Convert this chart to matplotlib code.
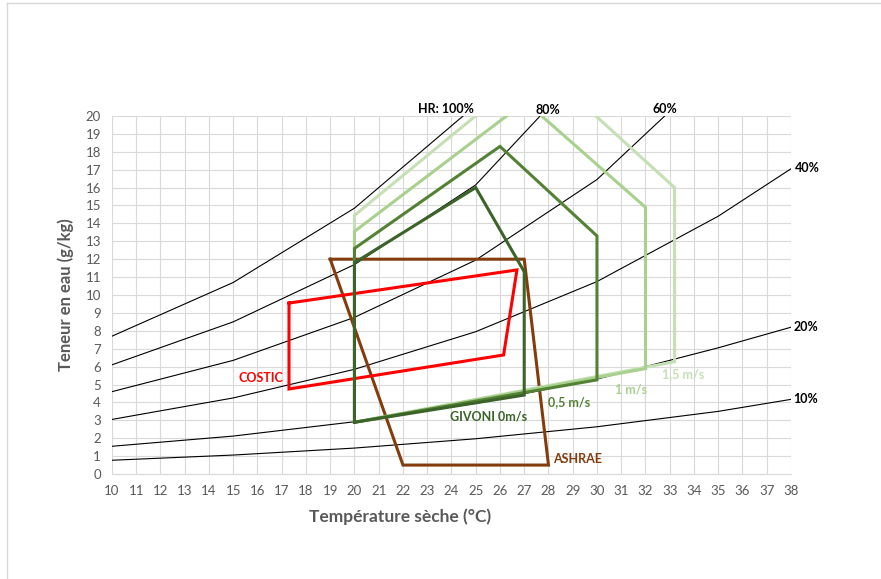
import matplotlib.pyplot as plt
from matplotlib.lines import Line2D

plt.rcParams["font.family"] = ["Lato", "DejaVu Sans"]

# RH curves: dry temperature (°C) vs moisture content (g/kg)
rh_temps = [10, 15, 20, 25, 30, 35, 38]
rh_100 = [7.7, 10.7, 14.85, 20.6, 27.5, 36.5, 43.4]
rh_80 = [6.1, 8.5, 11.7, 16.15, 23.4, 29.5, 34.5]
rh_60 = [4.6, 6.35, 8.75, 11.95, 16.45, 22.8, 26.0]
rh_40 = [3.05, 4.25, 5.85, 7.95, 10.75, 14.4, 17.05]
rh_20 = [1.55, 2.12, 2.92, 3.95, 5.3, 7.05, 8.2]
rh_10 = [0.77, 1.06, 1.45, 1.97, 2.64, 3.5, 4.17]

rh_labels = ["HR: 100%", "80%", "60%", "40%", "20%", "10%"]
rh_label_pos = [(22.6, 20.4), (27.45, 20.35), (32.3, 20.4), (38.15, 17.1), (38.1, 8.2), (38.1, 4.2)]

# comfort zones (closed polygons)
ashrae_t = [19, 27, 28, 22, 19]
ashrae_w = [12, 12, 0.5, 0.5, 12]
costic_t = [17.3, 26.7, 26.15, 17.3, 17.3]
costic_w = [9.55, 11.4, 6.65, 4.75, 9.55]
givoni0_t = [20, 27, 27, 25, 20, 20]
givoni0_w = [2.89, 4.41, 11.3, 16.0, 11.8, 2.89]
givoni05_t = [20, 30, 30, 26, 20, 20]
givoni05_w = [2.89, 5.26, 13.3, 18.3, 12.6, 2.89]
givoni1_t = [20, 32, 32, 27.05, 20, 20]
givoni1_w = [2.89, 5.89, 14.9, 20.8, 13.55, 2.89]
givoni15_t = [20, 33.2, 33.2, 27.6, 20, 20]
givoni15_w = [2.89, 6.27, 16.0, 22.9, 14.45, 2.89]

zone_labels = ["ASHRAE", "COSTIC", "GIVONI 0m/s", "0,5 m/s", "1 m/s", "1,5 m/s"]
zone_colors = ["#843C0C", "#FF0000", "#3B6428", "#548235", "#A9D18E", "#C5E0B4"]
zone_label_pos = [(28.2, 0.84, "left"), (17.05, 5.38, "right"), (23.95, 3.2, "left"),
                  (28.0, 4.04, "left"), (30.75, 4.73, "left"), (32.7, 5.6, "left")]


def main():
    fig = plt.figure(figsize=(8.81, 5.79), dpi=100)
    ax = fig.add_axes([0.1271, 0.1813, 0.7707, 0.6184])

    for w in [rh_100, rh_80, rh_60, rh_40, rh_20, rh_10]:
        ax.plot(rh_temps, w, color="black", lw=0.8, zorder=2)

    zones = [(ashrae_t, ashrae_w), (costic_t, costic_w), (givoni15_t, givoni15_w),
             (givoni1_t, givoni1_w), (givoni05_t, givoni05_w), (givoni0_t, givoni0_w)]
    colors = [zone_colors[0], zone_colors[1], zone_colors[5], zone_colors[4],
              zone_colors[3], zone_colors[2]]
    for (t, w), c in zip(zones, colors):
        ax.plot(t, w, color=c, lw=2.2, solid_joinstyle="miter", zorder=3)

    for label, (x, y) in zip(rh_labels, rh_label_pos):
        ax.text(x, y, label, fontsize=9, fontweight="bold", color="black",
                ha="left", va="center", clip_on=False)

    for label, c, (x, y, ha) in zip(zone_labels, zone_colors, zone_label_pos):
        ax.text(x, y, label, fontsize=9, fontweight="bold", color=c,
                ha=ha, va="center")

    ax.set_xlim(10, 38)
    ax.set_ylim(0, 20)
    ax.set_xticks(range(10, 39))
    ax.set_yticks(range(0, 21))
    ax.tick_params(length=0, labelsize=9.5, labelcolor="#595959", pad=8)
    ax.grid(color="#D9D9D9", lw=0.8)
    ax.set_axisbelow(True)
    for side in ["top", "right", "left"]:
        ax.spines[side].set_visible(False)
    ax.spines["bottom"].set_color("#D9D9D9")

    ax.set_xlabel("Température sèche (°C)", fontsize=12.5, fontweight="bold",
                  color="#595959")
    ax.xaxis.set_label_coords(0.424, -0.097)
    ax.set_ylabel("Teneur en eau (g/kg)", fontsize=12, fontweight="bold",
                  color="#595959", labelpad=8)

    # chart frame (left and top edges visible)
    fig.add_artist(Line2D([0.008, 0.008], [0.0, 0.994], transform=fig.transFigure,
                          color="#D9D9D9", lw=1))
    fig.add_artist(Line2D([0.008, 1.0], [0.994, 0.994], transform=fig.transFigure,
                          color="#D9D9D9", lw=1))

    fig.savefig("out.png", dpi=100)


if __name__ == "__main__":
    main()
